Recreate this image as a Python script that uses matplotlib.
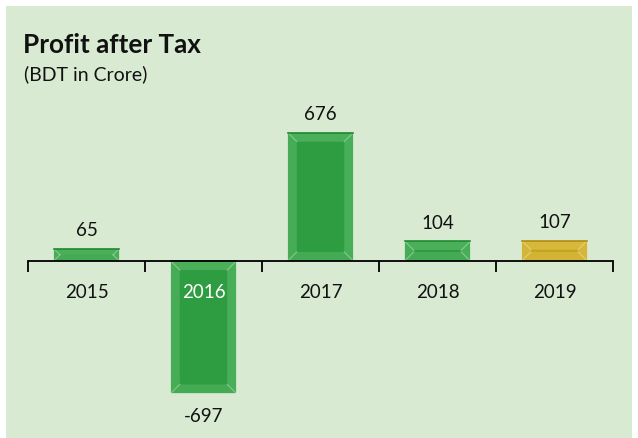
import numpy as np
import matplotlib.pyplot as plt
from matplotlib.patches import Rectangle, Polygon

years = ["2015", "2016", "2017", "2018", "2019"]
profit = [65, -697, 676, 104, 107]
bar_colors = ["#2e9c41", "#2e9c41", "#2e9c41", "#2e9c41", "#c6a321"]
edge_colors = ["#5fbd6b", "#5fbd6b", "#5fbd6b", "#5fbd6b", "#e3c74c"]
line_colors = ["#1f8a32", "#1f8a32", "#1f8a32", "#1f8a32", "#b08d12"]

W, H = 638, 438
fig = plt.figure(figsize=(W / 100, H / 100), dpi=100)
fig.patch.set_facecolor("white")

# light green panel
fig.add_artist(Rectangle((6 / W, 0), 626 / W, 432 / H, transform=fig.transFigure,
                         facecolor="#d9ead3", edgecolor="none", zorder=0))

font = "Lato"
fig.text(23 / W, 1 - 45 / H, "Profit after Tax", fontsize=18.8, fontweight="bold",
         family=font, va="center", ha="left", color="#111111")
fig.text(24 / W, 1 - 74 / H, "(BDT in Crore)", fontsize=14, family=font,
         va="center", ha="left", color="#111111")

# axes: 0 line at y=261 px, scale ~0.19 px per unit
top_px, bot_px, zero_px, scale = 100, 420, 261, 0.19
ax = fig.add_axes([28 / W, 1 - bot_px / H, 585 / W, (bot_px - top_px) / H])
ax.set_facecolor("none")
ax.set_xlim(-0.5, len(years) - 0.5)
ax.set_ylim(-(bot_px - zero_px) / scale, (zero_px - top_px) / scale)

x = np.arange(len(years))
bw = 0.56
bars = ax.bar(x, profit, width=bw, color=bar_colors, zorder=2)

# bevel effect
px_x = 1 / (585 / len(years))  # data units per pixel in x
px_y = 1 / scale
for b, c, ec, lc in zip(bars, bar_colors, edge_colors, line_colors):
    x0, w = b.get_x(), b.get_width()
    y0, h = b.get_y(), b.get_height()
    y1 = y0 + h
    lo, hi = min(y0, y1), max(y0, y1)
    d = min(9, abs(h) * scale / 2)
    dx, dy = d * px_x, d * px_y
    outer = [(x0, lo), (x0 + w, lo), (x0 + w, hi), (x0, hi)]
    inner = [(x0 + dx, lo + dy), (x0 + w - dx, lo + dy), (x0 + w - dx, hi - dy), (x0 + dx, hi - dy)]
    shades = [0.45, 0.55, 0.6, 0.5]
    for i in range(4):
        j = (i + 1) % 4
        poly = Polygon([outer[i], outer[j], inner[j], inner[i]], closed=True,
                       facecolor=ec, edgecolor="none", alpha=shades[i], zorder=3)
        ax.add_patch(poly)
        ax.plot([outer[i][0], inner[i][0]], [outer[i][1], inner[i][1]],
                color="white", alpha=0.35, lw=0.8, zorder=4)
    ax.add_patch(Polygon(inner, closed=True, facecolor=c, edgecolor="none", zorder=3))
    ax.plot([x0, x0 + w], [hi, hi], color=lc, lw=1.2, zorder=4)

# value labels
for xi, v in zip(x, profit):
    off = 18 if v >= 0 else -23
    ax.annotate(str(v), (xi, v), xytext=(0, off), textcoords="offset pixels",
                ha="center", va="center", fontsize=13.5, family=font, color="#111111")

# category labels just below the zero line
for xi, yr, v in zip(x, years, profit):
    col = "white" if v < 0 else "#111111"
    ax.annotate(yr, (xi, 0), xytext=(0, -31), textcoords="offset pixels",
                ha="center", va="center", fontsize=13.5, family=font, color=col, zorder=5)

for s in ["top", "right", "left"]:
    ax.spines[s].set_visible(False)
ax.spines["bottom"].set_position(("data", 0))
ax.spines["bottom"].set_linewidth(1.3)
ax.spines["bottom"].set_zorder(4)
ax.set_xticks(np.arange(len(years) + 1) - 0.5)
ax.set_xticklabels([])
ax.tick_params(axis="x", direction="out", length=8, width=1.3)
ax.set_yticks([])

fig.savefig("out.png", dpi=100)
